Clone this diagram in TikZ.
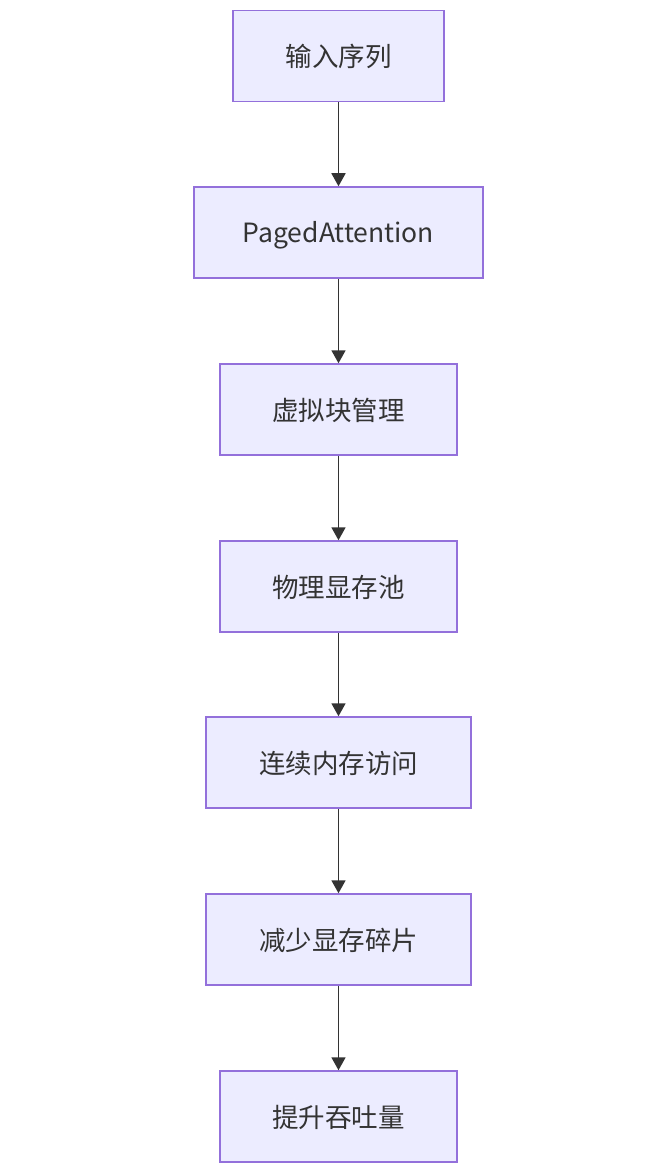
\documentclass[tikz,border=0pt]{standalone}
\usepackage{fontspec}
\setmainfont{Noto Sans CJK SC}
\usetikzlibrary{arrows.meta}
\definecolor{boxfill}{HTML}{ECECFF}
\definecolor{boxdraw}{HTML}{9370DB}
\definecolor{linecol}{HTML}{333333}
\begin{document}
\begin{tikzpicture}[x=1pt,y=-1pt,
  flowbox/.style={draw=boxdraw,fill=boxfill,line width=1.5pt,minimum height=91pt,inner sep=0pt,
    text height=24pt,text depth=3pt,
    text=linecol,font=\fontsize{26.5pt}{30pt}\selectfont},
  flowarrow/.style={draw=linecol,line width=1.8pt,-{Triangle[length=13pt,width=14pt]}}]
\useasboundingbox (0,0) rectangle (645,1174);
\node[flowbox,minimum width=211pt] (n1) at (338.5,56) {输入序列};
\node[flowbox,minimum width=289pt] (n2) at (338.5,232.5) {PagedAttention};
\node[flowbox,minimum width=237pt] (n3) at (338.5,409.5) {虚拟块管理};
\node[flowbox,minimum width=237pt] (n4) at (338.5,586.5) {物理显存池};
\node[flowbox,minimum width=265pt] (n5) at (338.5,762.5) {连续内存访问};
\node[flowbox,minimum width=265pt] (n6) at (338.5,939.5) {减少显存碎片};
\node[flowbox,minimum width=237pt] (n7) at (338.5,1116.5) {提升吞吐量};
\draw[flowarrow] (n1) -- (n2);
\draw[flowarrow] (n2) -- (n3);
\draw[flowarrow] (n3) -- (n4);
\draw[flowarrow] (n4) -- (n5);
\draw[flowarrow] (n5) -- (n6);
\draw[flowarrow] (n6) -- (n7);
\end{tikzpicture}
\end{document}
